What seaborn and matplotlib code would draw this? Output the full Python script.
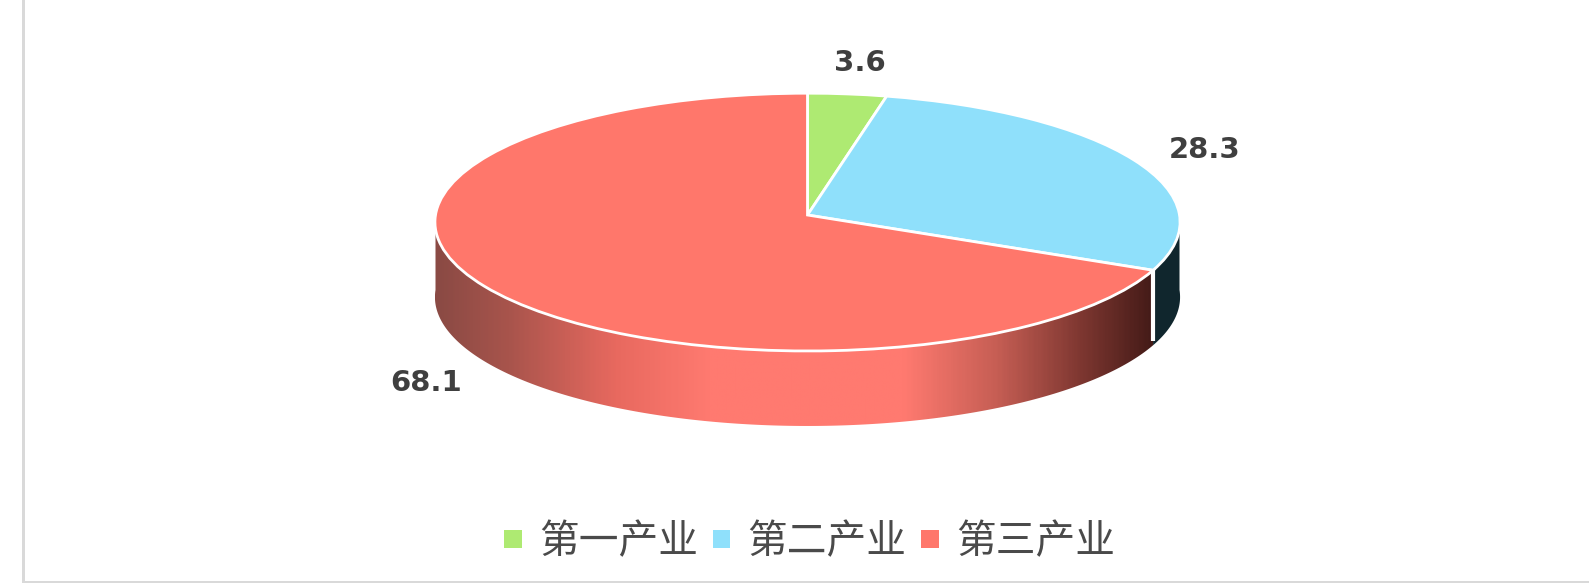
import numpy as np
import seaborn as sns
import matplotlib.pyplot as plt
from matplotlib.colors import LinearSegmentedColormap
from matplotlib.patches import Polygon, Rectangle
from matplotlib.transforms import Transform

categories = ['第一产业', '第二产业', '第三产业']
shares = [3.6, 28.3, 68.1]
share_labels = ['3.6', '28.3', '68.1']

sns.set_theme(style='white')
plt.rcParams['font.family'] = ['Noto Sans CJK SC', 'DejaVu Sans']
colors = sns.color_palette(['#aeea72', '#8fe0fb', '#ff776b'])

# centre of the tilted disc, in pixels
CX, CY = 807.5, 215
RX, RY, K = 372, 128.5, 0.055
DEPTH = 75


def project(u, v):
    # unit circle to a slightly perspective ellipse
    d = 1 + K * v
    return CX + RX * u / d, CY - RY * v / d


class Tilt(Transform):
    input_dims = output_dims = 2

    def transform_non_affine(self, xy):
        x, y = project(xy[:, 0], xy[:, 1])
        return np.column_stack([x, y])


def rim_outline(theta1, theta2):
    # only the front half of the disc has a visible wall
    t = np.radians(np.linspace(max(theta1, -180), min(theta2, 0), 200))
    x, y = project(np.cos(t), np.sin(t))
    top = np.column_stack([x, y])
    bottom = np.column_stack([x, y + DEPTH])
    return np.vstack([top, bottom[::-1]])


fig = plt.figure(figsize=(15.89, 5.83), dpi=100)
ax = fig.add_axes([0, 0, 1, 1])

wedges, _ = ax.pie(shares, colors=colors, startangle=90, counterclock=False,
                   wedgeprops={'edgecolor': 'white', 'linewidth': 2.0, 'zorder': 5})
ax.set_aspect('auto')
for w in wedges:
    w.set_transform(Tilt() + ax.transData)

# side walls
red_cmap = LinearSegmentedColormap.from_list('rim', [
    (0.0, '#8a4a44'), (0.1, '#a8544c'), (0.25, '#e8695f'), (0.38, '#ff7a70'),
    (0.65, '#ff7a70'), (0.78, '#c65e54'), (0.9, '#7c3630'), (1.0, '#421a17')])
red = wedges[2]
red_rim = Polygon(rim_outline(red.theta1, red.theta2), transform=ax.transData,
                  facecolor='none', edgecolor='none')
ax.add_patch(red_rim)
grad = np.linspace(0, 1, 400).reshape(1, -1)
im = ax.imshow(grad, cmap=red_cmap, extent=(435, 1157, 440, 200), aspect='auto', zorder=2)
im.set_clip_path(red_rim)

blue = wedges[1]
ax.add_patch(Polygon(rim_outline(blue.theta1, blue.theta2), facecolor='#10262d',
                     edgecolor='none', zorder=2))
t0 = np.radians(red.theta2)
x0, y0 = project(np.cos(t0), np.sin(t0))
ax.plot([x0, x0], [y0, y0 + DEPTH - 4], color='white', lw=3, zorder=3, solid_capstyle='butt')

ax.set_xlim(0, 1589)
ax.set_ylim(583, 0)
ax.axis('off')

# panel border on the left and bottom only
ax.add_patch(Rectangle((22, 0), 3, 583, color='#d9d9d9', lw=0))
ax.add_patch(Rectangle((22, 581), 1567, 2, color='#d9d9d9', lw=0))

label_pos = [(860, 63), (1205, 150), (426, 383)]
for txt, (lx, ly) in zip(share_labels, label_pos):
    ax.text(lx, ly, txt, ha='center', va='center', fontsize=21, fontweight='bold',
            family='DejaVu Sans', color='#3f3f3f')

leg = ax.legend(wedges, categories, ncol=3, loc='center', bbox_to_anchor=(0.5095, 0.07),
                frameon=False, fontsize=28.6, labelcolor='#4a4a4a', handlelength=0.45,
                handleheight=0.35, handletextpad=0.43, columnspacing=0.36,
                borderpad=0, borderaxespad=0)
for h in leg.legend_handles:
    h.set_edgecolor('none')

fig.savefig('out.png', dpi=100)
